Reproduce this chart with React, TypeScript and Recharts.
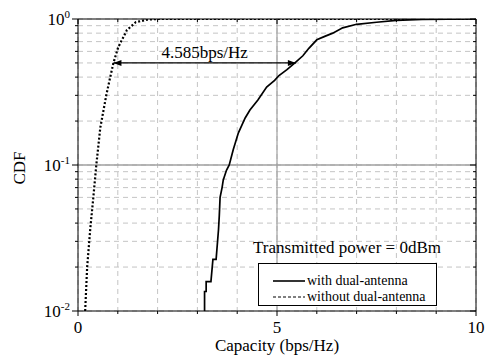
import React from 'react';
import { LineChart, Line, XAxis, YAxis, CartesianGrid, ReferenceLine, Legend } from 'recharts';

// ---- data ----
const withDualX = [3.18, 3.18, 3.22, 3.22, 3.34, 3.39, 3.47, 3.53, 3.55, 3.57, 3.62, 3.65, 3.73, 3.8, 3.9, 4.03, 4.2, 4.32, 4.52, 4.74, 4.94, 5.05, 5.25, 5.45, 5.65, 5.8, 6.0, 6.2, 6.4, 6.65, 7.0, 7.5, 8.0, 8.65, 9.3, 10];
const withDualCdf = [0.01, 0.0136, 0.0136, 0.0159, 0.0159, 0.0226, 0.0226, 0.036, 0.045, 0.06, 0.07, 0.079, 0.092, 0.1, 0.127, 0.166, 0.21, 0.238, 0.279, 0.342, 0.38, 0.41, 0.45, 0.5, 0.56, 0.63, 0.72, 0.76, 0.8, 0.87, 0.92, 0.95, 0.98, 0.995, 0.999, 1.0];

const withoutDualX = [0.18, 0.23, 0.31, 0.38, 0.46, 0.56, 0.71, 0.81, 0.89, 1.01, 1.23, 1.45, 1.74, 2.0, 10];
const withoutDualCdf = [0.01, 0.02, 0.037, 0.058, 0.1, 0.18, 0.3, 0.4, 0.5, 0.64, 0.84, 0.95, 0.99, 1.0, 1.0];

const seriesNames = ['with dual-antenna', 'without dual-antenna'];

const xTicks = [0, 1, 2, 3, 4, 5, 6, 7, 8, 9, 10];
const xLabelTicks = [0, 5, 10];
const yTicks = [0.01, 0.02, 0.03, 0.04, 0.05, 0.06, 0.07, 0.08, 0.09, 0.1, 0.2, 0.3, 0.4, 0.5, 0.6, 0.7, 0.8, 0.9, 1];
const yLabelTicks = [0.01, 0.1, 1];
const yLabelExponents = ['-2', '-1', '0'];

const gapStart = 0.89;
const gapValue = 4.585;
const gapCdf = 0.5;
const gapLabel = '4.585bps/Hz';
const noteText = 'Transmitted power = 0dBm';

const withDual = withDualX.map((x, i) => ({ x, cdf: withDualCdf[i] }));
const withoutDual = withoutDualX.map((x, i) => ({ x, cdf: withoutDualCdf[i] }));

// ---- layout ----
const W = 492;
const H = 358;
const LEFT = 78;
const RIGHT = 476;
const TOP = 19;
const BOTTOM = 311;
const FONT = '"Liberation Serif", "Times New Roman", serif';

const XTick = (props: any) => {
  const { x, payload } = props;
  const v = payload.value;
  const major = xLabelTicks.includes(v);
  const len = major ? 5 : 3;
  return (
    <g>
      <line x1={x} x2={x} y1={BOTTOM} y2={BOTTOM + len} stroke="#000" strokeWidth={1} />
      <line x1={x} x2={x} y1={TOP} y2={TOP + len} stroke="#000" strokeWidth={1} />
      {major && (
        <text x={x} y={333} textAnchor="middle" fontFamily={FONT} fontSize={17} fill="#000">
          {v}
        </text>
      )}
    </g>
  );
};

const YTick = (props: any) => {
  const { y, payload } = props;
  const v = payload.value;
  const idx = yLabelTicks.indexOf(v);
  const major = idx >= 0;
  const len = major ? 6 : 3;
  return (
    <g>
      <line x1={LEFT - len} x2={LEFT} y1={y} y2={y} stroke="#000" strokeWidth={1} />
      <line x1={RIGHT - len} x2={RIGHT} y1={y} y2={y} stroke="#000" strokeWidth={1} />
      {major && (
        <text x={70} y={y + 6} textAnchor="end" fontFamily={FONT} fontSize={17} fill="#000">
          10
          <tspan fontSize={11} dy={-7}>
            {yLabelExponents[idx]}
          </tspan>
        </text>
      )}
    </g>
  );
};

const CdfLabel = () => (
  <text
    x={25}
    y={168}
    transform="rotate(-90, 25, 168)"
    textAnchor="middle"
    fontFamily={FONT}
    fontSize={17}
    fill="#000"
  >
    CDF
  </text>
);

const GapArrow = (props: any) => {
  const { x1, y1, x2, y2 } = props;
  const a = 8;
  const b = 3;
  return (
    <g>
      <line x1={x1} y1={y1} x2={x2} y2={y2} stroke="#000" strokeWidth={1.2} />
      <polygon points={`${x1},${y1} ${x1 + a},${y1 - b} ${x1 + a},${y1 + b}`} fill="#000" />
      <polygon points={`${x2},${y2} ${x2 - a},${y2 - b} ${x2 - a},${y2 + b}`} fill="#000" />
      <text x={(x1 + x2) / 2} y={y1 - 5} textAnchor="middle" fontFamily={FONT} fontSize={17} fill="#000">
        {gapLabel}
      </text>
    </g>
  );
};

const LegendOverlay = () => (
  <svg width={W} height={H} style={{ display: 'block' }}>
    <text x={347} y={253} textAnchor="middle" fontFamily={FONT} fontSize={17} fill="#000">
      {noteText}
    </text>
    <rect x={258.5} y={263.5} width={178} height={42} fill="#fff" stroke="#000" strokeWidth={1} />
    {seriesNames.map((name, i) => (
      <g key={name}>
        <line
          x1={273}
          x2={305}
          y1={281 + i * 16}
          y2={281 + i * 16}
          stroke="#000"
          strokeWidth={i === 0 ? 1.6 : 1.1}
          strokeDasharray={i === 0 ? undefined : '3 2'}
        />
        <text x={307} y={285 + i * 16} fontFamily={FONT} fontSize={14} fill="#000">
          {name}
        </text>
      </g>
    ))}
  </svg>
);

export default function App() {
  return (
    <div style={{ position: 'absolute', left: 0, top: 0, width: W, height: H, background: '#fff' }}>
      <LineChart width={W} height={H} margin={{ top: TOP, right: W - RIGHT, bottom: 0, left: 0 }}>
        <CartesianGrid
          stroke="#c4c4c4"
          strokeDasharray="5 4"
          horizontalValues={yTicks}
          verticalValues={xTicks}
        />
        <XAxis
          type="number"
          dataKey="x"
          domain={[0, 10]}
          ticks={xTicks}
          interval={0}
          allowDataOverflow
          height={H - BOTTOM}
          axisLine={{ stroke: '#000', strokeWidth: 1 }}
          tickLine={false}
          tick={<XTick />}
          label={{
            value: 'Capacity (bps/Hz)',
            position: 'insideBottom',
            offset: 7,
            style: { fontFamily: FONT, fontSize: 17, fill: '#000' },
          }}
        />
        <YAxis
          type="number"
          scale="log"
          domain={[0.01, 1]}
          ticks={yTicks}
          interval={0}
          allowDataOverflow
          width={LEFT}
          axisLine={{ stroke: '#000', strokeWidth: 1 }}
          tickLine={false}
          tick={<YTick />}
          label={<CdfLabel />}
        />
        <ReferenceLine y={0.1} stroke="#a0a0a0" strokeWidth={1.4} />
        <ReferenceLine x={5} stroke="#a0a0a0" strokeWidth={1.2} />
        <ReferenceLine y={1} stroke="#000" strokeWidth={1} />
        <ReferenceLine x={10} stroke="#000" strokeWidth={1} />
        <Line
          data={withDual}
          dataKey="cdf"
          name={seriesNames[0]}
          type="linear"
          dot={false}
          stroke="#000"
          strokeWidth={1.7}
          isAnimationActive={false}
        />
        <Line
          data={withoutDual}
          dataKey="cdf"
          name={seriesNames[1]}
          type="linear"
          dot={false}
          stroke="#000"
          strokeWidth={2.2}
          strokeDasharray="2 2"
          isAnimationActive={false}
        />
        <ReferenceLine
          segment={[
            { x: gapStart, y: gapCdf },
            { x: gapStart + gapValue, y: gapCdf },
          ]}
          shape={<GapArrow />}
        />
        <Legend
          verticalAlign="middle"
          align="center"
          layout="horizontal"
          content={() => <LegendOverlay />}
          wrapperStyle={{ left: 0, top: 0, width: W, height: H, pointerEvents: 'none' }}
        />
      </LineChart>
    </div>
  );
}
